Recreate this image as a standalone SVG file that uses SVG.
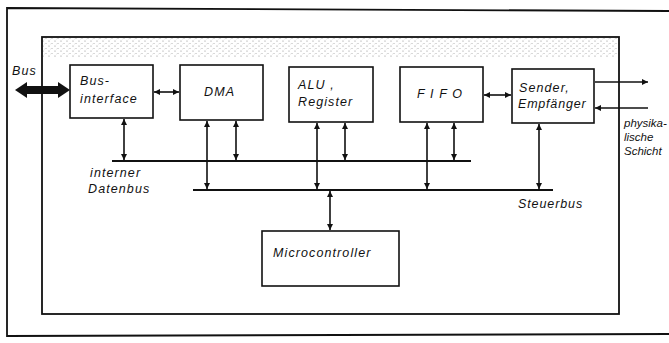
<svg xmlns="http://www.w3.org/2000/svg" width="669" height="343" viewBox="0 0 669 343">
<style>
.box{fill:#fff;stroke:#111;stroke-width:1.6}
.frame{fill:none;stroke:#111;stroke-width:1.8}
.ln{fill:none;stroke:#111;stroke-width:1.6}
.bus{fill:none;stroke:#111;stroke-width:2.2}
.t{font-family:"Liberation Sans",Arial,sans-serif;font-style:italic;font-size:12.5px;letter-spacing:1.1px;fill:#111}
.ph{font-size:11.5px;letter-spacing:0}
</style>
<defs>
<pattern id="dots" width="6" height="5" patternUnits="userSpaceOnUse">
<circle cx="1" cy="1" r="0.6" fill="#888"/>
<circle cx="4" cy="3.5" r="0.5" fill="#999"/>
<circle cx="2.5" cy="4" r="0.35" fill="#aaa"/>
</pattern>
<marker id="ah" viewBox="0 0 10 10" refX="10" refY="5" markerWidth="6" markerHeight="6" markerUnits="userSpaceOnUse" orient="auto-start-reverse">
<path d="M0,0 L10,5 L0,10 z" fill="#111"/>
</marker>
</defs>
<rect width="669" height="343" fill="#fff"/>
<path class="frame" d="M669,11 L7,8 L7,336 L669,334"/>
<rect x="43" y="38" width="575" height="20" fill="url(#dots)"/>
<rect class="frame" x="42" y="37" width="577" height="277"/>
<g id="connectors">
<line class="bus" x1="112" y1="161" x2="471" y2="161"/>
<line class="bus" x1="193" y1="190" x2="553" y2="190"/>
<polygon points="15,90 27,82 27,86 58,86 58,82 70,90 58,98 58,94 27,94 27,98" fill="#111"/>
<line class="ln" x1="154" y1="92" x2="179" y2="92" marker-start="url(#ah)" marker-end="url(#ah)"/>
<line class="ln" x1="484" y1="95" x2="511" y2="95" marker-start="url(#ah)" marker-end="url(#ah)"/>
<line class="ln" x1="595" y1="82" x2="648" y2="82" marker-end="url(#ah)"/>
<line class="ln" x1="648" y1="108" x2="595" y2="108" marker-end="url(#ah)"/>
<line class="ln" x1="124" y1="119" x2="124" y2="160" marker-start="url(#ah)" marker-end="url(#ah)"/>
<line class="ln" x1="207" y1="121" x2="207" y2="189" marker-start="url(#ah)" marker-end="url(#ah)"/>
<line class="ln" x1="236" y1="121" x2="236" y2="160" marker-start="url(#ah)" marker-end="url(#ah)"/>
<line class="ln" x1="317" y1="123" x2="317" y2="189" marker-start="url(#ah)" marker-end="url(#ah)"/>
<line class="ln" x1="345" y1="123" x2="345" y2="160" marker-start="url(#ah)" marker-end="url(#ah)"/>
<line class="ln" x1="427" y1="123" x2="427" y2="189" marker-start="url(#ah)" marker-end="url(#ah)"/>
<line class="ln" x1="454" y1="123" x2="454" y2="160" marker-start="url(#ah)" marker-end="url(#ah)"/>
<line class="ln" x1="539" y1="124" x2="539" y2="189" marker-start="url(#ah)" marker-end="url(#ah)"/>
<line class="ln" x1="330" y1="191" x2="330" y2="230" marker-start="url(#ah)" marker-end="url(#ah)"/>
</g>
<g id="businterface">
<rect class="box" x="70" y="65" width="83" height="53"/>
<text class="t" x="80" y="85">Bus-</text>
<text class="t" x="80" y="103">interface</text>
</g>
<g id="dma">
<rect class="box" x="180" y="65" width="83" height="55"/>
<text class="t" x="204" y="96">DMA</text>
</g>
<g id="alu">
<rect class="box" x="289" y="67" width="84" height="55"/>
<text class="t" x="298" y="89">ALU ,</text>
<text class="t" x="298" y="106">Register</text>
</g>
<g id="fifo">
<rect class="box" x="400" y="67" width="83" height="55"/>
<text class="t" x="417" y="98">F I F O</text>
</g>
<g id="sender">
<rect class="box" x="512" y="69" width="82" height="54"/>
<text class="t" x="519" y="92">Sender,</text>
<text class="t" x="518" y="108" style="letter-spacing:0.8px">Empfänger</text>
</g>
<g id="microcontroller">
<rect class="box" x="262" y="231" width="137" height="55"/>
<text class="t" x="273" y="257">Microcontroller</text>
</g>
<g id="labels">
<text class="t" x="12" y="75">Bus</text>
<text class="t" x="90" y="177">interner</text>
<text class="t" x="88" y="193">Datenbus</text>
<text class="t" x="518" y="208" style="letter-spacing:0.9px">Steuerbus</text>
<text class="t ph" x="624" y="127">physika-</text>
<text class="t ph" x="624" y="141">lische</text>
<text class="t ph" x="624" y="155">Schicht</text>
</g>
</svg>
